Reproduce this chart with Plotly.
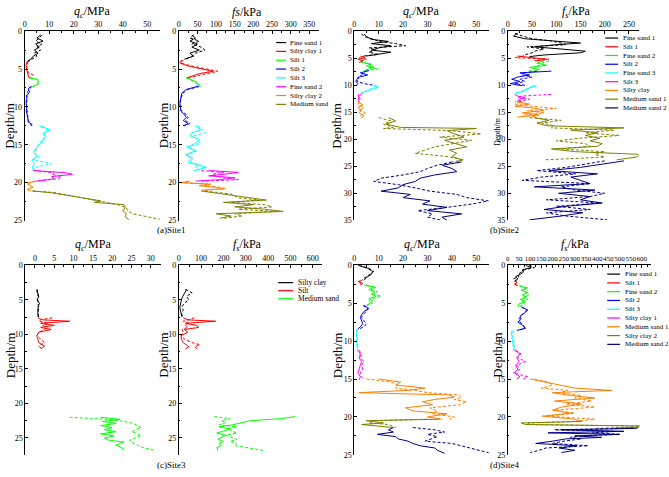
import plotly.graph_objects as go

W, H = 669, 477
FONT = "Liberation Serif"

PALETTE = ["#000000", "#FF0000", "#00FF00", "#0000FF", "#00FFFF",
           "#FF00FF", "#FF8000", "#808000", "#000080"]

SITE1_LAYERS = ["Fine sand 1", "Silty clay 1", "Silt 1", "Silt 2", "Silt 3",
                "Fine sand 2", "Silty clay 2", "Medium sand"]
SITE2_LAYERS = ["Fine sand 1", "Silt 1", "Fine sand 2", "Silt 2", "Fine sand 3",
                "Silt 3", "Silty clay", "Medium sand 1", "Medium sand 2"]
SITE3_LAYERS = ["Silty clay", "Silt", "Medium sand"]
SITE4_LAYERS = ["Fine sand 1", "Silt 1", "Fine sand 2", "Silt 2", "Silt 3",
                "Silty clay 1", "Medium sand 1", "Silty clay 2", "Medium sand 2"]

# Each layer: (depth [m], solid-line values, dashed-line values)
S1_QC = [
    ([0.5, 0.9, 1.3, 1.7, 2.1, 2.5, 2.9, 3.3, 3.7, 4.0],
     [6.5, 5.0, 7.5, 4.5, 6.0, 4.0, 5.5, 3.5, 2.5, 1.0],
     [7.0, 6.0, 4.5, 7.0, 5.0, 6.5, 4.0, 5.0, 3.0, 1.5]),
    ([4.0, 4.5, 5.0, 5.5, 5.8, 6.2],
     [1.0, 0.6, 0.8, 1.2, 1.5, 1.8],
     [1.5, 0.8, 1.0, 1.5, 3.5, 2.0]),
    ([6.2, 6.35, 6.6, 6.9, 7.1, 7.3],
     [2.0, 5.3, 5.5, 5.4, 5.0, 3.0],
     [2.5, 5.0, 5.8, 5.5, 4.5, 3.5]),
    ([7.3, 7.6, 8.0, 8.5, 9.0, 9.5, 10.0, 10.5, 11.0, 11.5, 12.0, 12.3, 12.5],
     [2.5, 1.5, 2.0, 1.0, 0.8, 0.6, 0.9, 0.7, 1.0, 1.2, 1.5, 3.0, 2.5],
     [3.0, 2.0, 1.2, 0.8, 1.0, 0.7, 0.8, 1.0, 0.9, 1.4, 1.8, 2.5, 3.0]),
    ([12.5, 13.0, 13.5, 14.0, 14.5, 15.0, 15.5, 16.0, 16.5, 17.0, 17.5, 18.0, 18.4],
     [6.0, 10.5, 7.5, 8.5, 7.0, 6.0, 4.5, 3.5, 5.0, 3.0, 4.0, 3.0, 4.5],
     [7.0, 9.0, 8.5, 7.5, 8.0, 5.5, 5.0, 4.0, 6.0, 3.5, 11.0, 4.0, 3.0]),
    ([18.4, 18.7, 18.9, 19.2, 19.5, 19.8],
     [4.0, 17.0, 19.5, 11.0, 12.0, 5.0],
     [3.5, 12.0, 11.0, 15.0, 13.5, 4.0]),
    ([19.8, 20.0, 20.3, 20.6, 20.9, 21.1],
     [5.0, 1.5, 2.0, 3.5, 1.0, 2.0],
     [4.0, 2.0, 1.5, 2.5, 1.5, 2.5]),
    ([21.1, 21.3, 21.6, 21.9, 22.2, 22.4, 22.6, 22.9, 23.3, 23.7, 24.1, 24.5, 24.9],
     [3.0, 10.0, 16.0, 21.0, 26.0, 31.0, 28.5, 40.5, 41.0, 40.0, 41.5, 41.0, 42.5],
     [3.5, 12.0, 17.0, 22.0, 27.0, 29.5, 33.0, 38.0, 41.5, 42.0, 44.0, 50.0, 56.0]),
]

S1_FS = [
    ([0.5, 0.9, 1.3, 1.7, 2.1, 2.5, 2.9, 3.3, 3.7],
     [35, 45, 30, 50, 35, 55, 30, 40, 15],
     [40, 30, 55, 35, 60, 70, 45, 35, 20]),
    ([3.8, 4.2, 4.6, 5.0, 5.3, 5.6, 5.9, 6.2],
     [8, 3, 25, 65, 92, 55, 38, 20],
     [12, 5, 35, 80, 105, 75, 47, 25]),
    ([6.2, 6.5, 6.8, 7.1, 7.3],
     [25, 40, 50, 55, 45],
     [20, 35, 45, 52, 60]),
    ([7.3, 7.7, 8.2, 8.8, 9.4, 10.0, 10.6, 11.0, 11.4, 11.8, 12.2, 12.5],
     [50, 20, 8, 5, 3, 4, 6, 15, 20, 12, 25, 15],
     [55, 25, 10, 6, 4, 3, 8, 20, 25, 18, 30, 10]),
    ([12.5, 13.0, 13.4, 13.8, 14.3, 14.8, 15.3, 15.8, 16.3, 16.8, 17.3, 17.7, 18.0, 18.4],
     [45, 60, 35, 30, 55, 45, 25, 45, 18, 35, 25, 55, 75, 40],
     [50, 65, 72, 40, 50, 58, 20, 50, 22, 40, 28, 60, 45, 55]),
    ([18.4, 18.65, 18.9, 19.1, 19.35, 19.6, 19.8],
     [80, 160, 120, 80, 150, 110, 45],
     [60, 120, 90, 100, 120, 160, 60]),
    ([19.8, 20.0, 20.2, 20.4, 20.6, 20.8, 21.0],
     [30, 5, 85, 55, 95, 120, 60],
     [25, 15, 80, 70, 110, 125, 70]),
    ([21.1, 21.5, 22.0, 22.3, 22.6, 22.9, 23.2, 23.5, 23.8, 24.1, 24.4, 24.7],
     [60, 120, 190, 235, 120, 200, 150, 230, 280, 100, 140, 110],
     [70, 140, 160, 215, 140, 230, 250, 160, 260, 150, 170, 120]),
]

S2_QC = [
    ([0.5, 1.0, 1.5, 1.9, 2.3, 2.7, 3.1, 3.5, 3.9, 4.3, 4.6],
     [4, 5, 7, 14, 7, 15, 10, 7, 15, 8, 5],
     [3, 4, 8, 10, 17, 21, 6, 9, 6, 10, 4]),
    ([4.6, 4.9, 5.2, 5.5, 5.8],
     [2.5, 4.5, 1.5, 3.5, 2.0],
     [4.0, 2.0, 5.0, 2.5, 3.5]),
    ([5.8, 6.1, 6.4, 6.7, 7.0, 7.3],
     [3, 7, 5, 8, 6, 4],
     [4, 6, 8, 6, 10, 5]),
    ([7.3, 7.7, 8.1, 8.5, 8.9, 9.3, 9.7, 10.0],
     [6, 2.5, 5.5, 2, 1, 0.7, 1.5, 1],
     [5, 4, 3, 1.5, 2, 1, 4, 8]),
    ([10.0, 10.4, 10.8, 11.2, 11.6],
     [8, 10, 7, 4, 2.5],
     [9, 8, 6, 5, 3]),
    ([11.6, 12.0, 12.4, 12.8, 13.1],
     [2, 1.5, 2.5, 1.5, 2],
     [3, 2, 1.5, 2.5, 1.5]),
    ([13.1, 13.6, 14.1, 14.6, 15.1, 15.6, 16.0],
     [1.5, 3.5, 1.5, 3, 2, 4, 3],
     [2, 1.5, 4, 2, 4.5, 2.5, 3.5]),
    ([16.0, 16.6, 17.2, 17.8, 18.0, 18.4, 19.0, 19.6, 20.2, 20.8, 21.4, 22.0, 22.6, 23.2, 23.8, 24.2],
     [14, 17, 13, 19, 50, 38, 41, 45, 37, 42, 46, 39, 42, 40, 44, 42],
     [10, 15, 12, 16, 12, 40, 52, 35, 48, 40, 33, 29, 25, 38, 45, 40]),
    ([24.2, 24.8, 25.4, 26.0, 26.6, 27.2, 27.8, 28.4, 29.0, 29.6, 30.2, 30.8, 31.4, 32.0, 32.6, 33.2, 33.8, 34.4, 35.0],
     [44, 36, 40, 42, 33, 27, 25, 20, 18, 11, 23, 20, 31, 28, 38, 30, 44, 36, 38],
     [40, 34, 30, 27, 20, 11, 8, 18, 25, 31, 42, 46, 55, 48, 38, 26, 32, 30, 36]),
]

S2_FS = [
    ([0.4, 0.9, 1.4, 1.8, 2.2, 2.5, 2.9, 3.3, 3.7, 4.0, 4.4, 4.7],
     [20, 12, 35, 95, 150, 100, 55, 110, 160, 150, 75, 45],
     [15, 30, 50, 90, 110, 120, 40, 75, 55, 50, 35, 30]),
    ([4.6, 4.9, 5.2, 5.5],
     [20, 45, 80, 55],
     [30, 15, 85, 60]),
    ([5.5, 5.9, 6.3, 6.7, 7.1, 7.5],
     [75, 60, 80, 45, 65, 50],
     [85, 70, 65, 55, 50, 40]),
    ([7.4, 7.7, 8.1, 8.5, 8.9, 9.3, 9.7, 10.1],
     [90, 25, 45, 20, 8, 25, 5, 30],
     [60, 35, 30, 50, 25, 35, 15, 40]),
    ([10.1, 10.5, 10.9, 11.3, 11.7],
     [55, 45, 35, 25, 15],
     [60, 40, 38, 20, 12]),
    ([11.7, 12.0, 12.3, 12.6, 12.9, 13.1],
     [15, 20, 35, 25, 20, 30],
     [90, 30, 20, 45, 25, 15]),
    ([13.1, 13.5, 13.9, 14.3, 14.7, 15.1, 15.5, 15.9],
     [20, 45, 15, 60, 75, 30, 65, 20],
     [25, 15, 50, 100, 40, 75, 35, 60]),
    ([16.0, 16.5, 17.0, 17.5, 17.9, 18.3, 18.8, 19.3, 19.8, 20.3, 20.8, 21.3, 21.8, 22.3, 22.8, 23.3, 23.8],
     [55, 85, 60, 80, 240, 130, 185, 160, 190, 170, 195, 185, 90, 140, 275, 265, 225],
     [45, 110, 70, 95, 90, 220, 160, 230, 150, 100, 160, 170, 110, 200, 180, 200, 75]),
    ([24.0, 24.6, 25.2, 25.8, 26.4, 27.0, 27.6, 28.2, 28.8, 29.4, 30.0, 30.6, 31.2, 31.8, 32.4, 33.0, 33.6, 34.2, 34.9],
     [240, 190, 150, 85, 185, 130, 150, 170, 55, 180, 105, 170, 150, 195, 120, 75, 155, 110, 45],
     [200, 160, 120, 60, 140, 70, 30, 170, 110, 140, 200, 170, 80, 190, 100, 170, 80, 120, 205]),
]

S3_QC = [
    ([3.5, 4.0, 4.5, 5.0, 5.5, 6.0, 6.5, 7.0, 7.5],
     [0.5, 0.8, 1.0, 0.6, 1.2, 0.8, 0.9, 0.7, 1.0],
     [0.6, 0.5, 0.9, 0.7, 0.8, 1.0, 0.7, 0.9, 0.8]),
    ([7.6, 7.9, 8.1, 8.4, 8.7, 9.0, 9.3, 9.7, 10.2, 10.7, 11.2, 11.7, 12.1],
     [0.8, 2.0, 9.0, 1.5, 5.0, 1.5, 4.2, 1.0, 0.5, 0.8, 1.0, 2.5, 1.5],
     [4.5, 1.5, 1.0, 3.5, 2.0, 3.0, 2.5, 1.0, 0.5, 1.5, 2.5, 1.0, 1.8]),
    ([22.0, 22.3, 22.6, 22.9, 23.2, 23.5, 23.8, 24.1, 24.4, 24.7, 25.0, 25.3, 25.6, 26.0, 26.4, 26.8],
     [17, 22, 17.5, 21, 17, 20, 18, 21, 17, 20.5, 18, 19, 23, 21, 22.5, 23],
     [9, 19, 23, 25.5, 26.5, 27.5, 26, 25, 26.5, 27.5, 26, 24.5, 25, 26.5, 28, 31]),
]

S3_FS = [
    ([3.5, 4.0, 4.5, 5.0, 5.5, 6.0, 6.5, 7.0, 7.5],
     [35, 25, 18, 12, 8, 5, 7, 10, 15],
     [30, 60, 35, 45, 25, 15, 20, 12, 18]),
    ([7.6, 7.9, 8.1, 8.4, 8.7, 9.0, 9.3, 9.7, 10.2, 10.7, 11.2, 11.5, 11.8, 12.1],
     [20, 40, 165, 30, 80, 90, 25, 40, 10, 12, 20, 35, 45, 30],
     [70, 35, 20, 45, 30, 40, 15, 20, 12, 25, 60, 95, 70, 85]),
    ([21.9, 22.2, 22.5, 22.8, 23.1, 23.4, 23.7, 24.0, 24.3, 24.6, 24.9, 25.2, 25.5, 25.8, 26.1, 26.4, 26.8],
     [520, 460, 320, 280, 240, 180, 230, 200, 170, 210, 190, 175, 200, 180, 190, 170, 175],
     [160, 230, 190, 210, 180, 260, 220, 240, 260, 210, 240, 260, 230, 260, 250, 300, 380]),
]

S4_QC = [
    ([0.0, 0.4, 0.8, 1.2, 1.6, 2.0],
     [1.5, 5.5, 7.5, 7.0, 5.0, 4.0],
     [2.0, 6.0, 8.0, 6.5, 4.5, 3.0]),
    ([2.0, 2.2, 2.4, 2.6],
     [3.0, 2.0, 3.5, 2.5],
     [2.5, 1.5, 2.5, 3.0]),
    ([2.6, 2.9, 3.2, 3.5, 3.8, 4.1, 4.4, 4.7, 5.0, 5.3],
     [4, 8, 6, 8.5, 7, 9, 6, 7.5, 6.5, 5],
     [5, 9, 7, 9.5, 8, 11, 7, 6, 7.5, 5]),
    ([5.3, 5.7, 6.1, 6.5, 6.9, 7.3, 7.7, 8.1, 8.4],
     [4, 6, 4, 3, 2.5, 3, 3.5, 2.5, 1.5],
     [3.5, 5.5, 5, 3.5, 3, 4, 5, 4, 2]),
    ([8.4, 9.0, 9.6, 10.2, 10.8, 11.2],
     [1, 0.8, 1.2, 1.0, 1.5, 1.2],
     [1.2, 1.0, 0.9, 1.3, 1.0, 1.5]),
    ([11.2, 11.7, 12.2, 12.7, 13.2, 13.7, 14.2, 14.7, 15.1],
     [1.5, 2.5, 2.0, 3.0, 2.5, 2.0, 1.5, 2.5, 2.0],
     [2.0, 3.0, 2.5, 4.0, 3.0, 3.5, 2.5, 3.0, 4.0]),
    ([15.0, 15.4, 15.8, 16.2, 16.5, 16.8, 17.1, 17.4, 17.7, 18.0, 18.4, 18.8, 19.2, 19.6, 20.0, 20.3],
     [10, 19, 17, 29, 22, 2, 39, 41, 33, 28, 32, 21, 24, 38, 30, 36],
     [5, 15, 18, 17, 25, 30, 43, 44, 41, 46, 43, 31, 34, 32, 41, 39]),
    ([20.3, 20.5, 20.8, 21.0, 21.4],
     [35, 5, 12, 3, 16],
     [30, 8, 6, 14, 17]),
    ([21.4, 21.7, 22.0, 22.3, 22.6, 22.9, 23.2, 23.5, 23.8, 24.1, 24.4, 24.8],
     [16, 14, 16, 9.5, 17, 18, 22, 24, 27, 33, 34, 37],
     [24, 33, 37, 30, 34, 31, 29, 40, 44, 47, 52, 56]),
]

S4_FS = [
    ([0.0, 0.3, 0.6, 0.9, 1.2, 1.5, 1.8, 2.1],
     [80, 105, 65, 70, 55, 35, 45, 30],
     [95, 120, 75, 60, 45, 50, 25, 40]),
    ([2.1, 2.3, 2.5, 2.7],
     [35, 40, 30, 45],
     [30, 45, 35, 40]),
    ([2.7, 3.0, 3.3, 3.6, 3.9, 4.2, 4.5, 4.8, 5.1, 5.5],
     [50, 85, 60, 90, 65, 85, 55, 80, 50, 45],
     [55, 90, 70, 80, 95, 70, 90, 60, 75, 50]),
    ([5.5, 5.9, 6.3, 6.7, 7.1, 7.5, 7.9, 8.3, 8.6],
     [60, 90, 75, 55, 60, 45, 65, 80, 40],
     [65, 85, 70, 60, 50, 55, 70, 75, 50]),
    ([8.6, 9.1, 9.6, 10.1, 10.6, 11.2],
     [20, 15, 25, 20, 30, 25],
     [25, 20, 18, 30, 22, 35]),
    ([11.2, 11.7, 12.2, 12.7, 13.2, 13.7, 14.2, 14.7, 15.0],
     [30, 55, 40, 50, 35, 45, 30, 55, 40],
     [35, 60, 45, 80, 40, 55, 25, 90, 70]),
    ([15.0, 15.4, 15.8, 16.2, 16.5, 16.8, 17.2, 17.5, 17.9, 18.3, 18.7, 19.1, 19.5, 19.9, 20.3, 20.6],
     [100, 170, 240, 300, 465, 200, 290, 390, 210, 330, 240, 200, 280, 155, 300, 330],
     [120, 180, 200, 150, 270, 230, 330, 300, 375, 260, 390, 210, 300, 180, 390, 300]),
    ([20.6, 20.8, 21.0, 21.2, 21.35, 21.5],
     [330, 60, 80, 590, 580, 470],
     [300, 90, 100, 580, 590, 400]),
    ([21.5, 21.7, 21.9, 22.1, 22.3, 22.5, 22.7, 22.9, 23.2, 23.5, 23.8, 24.1, 24.4, 24.7],
     [580, 240, 520, 180, 500, 300, 420, 260, 200, 125, 310, 230, 300, 240],
     [560, 210, 480, 380, 500, 320, 280, 330, 250, 200, 360, 170, 140, 100]),
]

QC_TITLE = "<i>q</i><sub><i>c</i></sub>/MPa"
FS_TITLE = "<i>f</i><sub><i>s</i></sub>/kPa"

# panel layout (pixel geometry)
PANELS = [
    dict(data=S1_QC, layers=SITE1_LAYERS, x0=22.7, x1=158.0, y0=27.7, y1=220.7,
         xr=[0, 55], dt=10, yr=[25, 0], title=QC_TITLE, tx=90, ty=8, tf=8),
    dict(data=S1_FS, layers=SITE1_LAYERS, x0=177.3, x1=317.6, y0=27.7, y1=220.7,
         xr=[0, 375], dt=50, yr=[25, 0], title="<i>fs</i>/kPa", tx=246, ty=8, tf=8),
    dict(data=S2_QC, layers=SITE2_LAYERS, x0=353.3, x1=488.0, y0=27.7, y1=220.5,
         xr=[0, 55], dt=10, yr=[35, 0], title=QC_TITLE, tx=420, ty=8, tf=8),
    dict(data=S2_FS, layers=SITE2_LAYERS, x0=507.3, x1=638.5, y0=27.7, y1=220.5,
         xr=[0, 270], dt=50, yr=[35, 0], title=FS_TITLE, tx=576, ty=8, tf=8),
    dict(data=S3_QC, layers=SITE3_LAYERS, x0=23.3, x1=159.0, y0=266.3, y1=459.5,
         xr=[-2.5, 32.5], dt=5, yr=[27.44, 0], title=QC_TITLE, tx=91, ty=246, tf=8),
    dict(data=S3_FS, layers=SITE3_LAYERS, x0=177.3, x1=320.7, y0=266.3, y1=459.5,
         xr=[0, 640], dt=100, yr=[27.44, 0], title=FS_TITLE, tx=246, ty=246, tf=8),
    dict(data=S4_QC, layers=SITE4_LAYERS, x0=353.3, x1=488.0, y0=266.3, y1=459.5,
         xr=[0, 55], dt=10, yr=[25, 0], title=QC_TITLE, tx=421, ty=246, tf=8),
    dict(data=S4_FS, layers=SITE4_LAYERS, x0=507.3, x1=650.7, y0=266.3, y1=459.5,
         xr=[0, 640], dt=50, yr=[25, 0], title=FS_TITLE, tx=575, ty=246, tf=7),
]

DEPTH_LABELS = [(8, 124, 13), (162, 124, 13), (336, 124, 13), (497, 130, 8),
                (8, 358, 13), (162, 358, 13), (336, 358, 13), (497, 358, 13)]
CAPTIONS = [("(a)Site1", 170, 230), ("(b)Site2", 504, 230),
            ("(c)Site3", 170, 470), ("(d)Site4", 504, 470)]
# legend: (panel index, line x0, line x1, text x, first y, step, font size)
LEGENDS = [(1, 275, 285, 287, 39.3, 9.0, 7),
           (3, 605, 618, 621, 34.7, 8.9, 7),
           (5, 277, 292, 295, 284.0, 8.2, 7.5),
           (7, 607, 620, 623, 275.3, 8.95, 7)]


def px(x):
    return x / W


def py(y):
    return 1 - y / H


fig = go.Figure()
layout = dict(width=W, height=H, autosize=False, margin=dict(l=0, r=0, t=0, b=0),
              paper_bgcolor="white", plot_bgcolor="white", showlegend=False,
              font=dict(family=FONT, color="black"))
annotations = []
shapes = []

for k, p in enumerate(PANELS, start=1):
    xa = "x" if k == 1 else f"x{k}"
    ya = "y" if k == 1 else f"y{k}"
    for i, (dep, sol, das) in enumerate(p["data"]):
        col = PALETTE[i]
        fig.add_trace(go.Scatter(x=sol, y=dep, mode="lines", xaxis=xa, yaxis=ya,
                                 line=dict(color=col, width=1), name=p["layers"][i]))
        fig.add_trace(go.Scatter(x=das, y=dep, mode="lines", xaxis=xa, yaxis=ya,
                                 line=dict(color=col, width=1, dash="3px,2px"),
                                 name=p["layers"][i]))
    axcommon = dict(showline=True, linecolor="black", linewidth=1, showgrid=False,
                    zeroline=False, ticks="inside", ticklen=3, tickwidth=1,
                    tickcolor="black")
    layout["xaxis" if k == 1 else f"xaxis{k}"] = dict(
        axcommon, domain=[px(p["x0"]), px(p["x1"])], range=p["xr"], side="top",
        anchor=ya, tickmode="linear", tick0=0, dtick=p["dt"], tickangle=0,
        tickfont=dict(family=FONT, size=p["tf"], color="black"),
        minor=dict(ticks="inside", ticklen=1.5, tickcolor="black", dtick=p["dt"] / 2))
    layout["yaxis" if k == 1 else f"yaxis{k}"] = dict(
        axcommon, domain=[py(p["y1"]), py(p["y0"])], range=p["yr"], anchor=xa,
        tickmode="linear", tick0=0, dtick=5,
        tickfont=dict(family=FONT, size=8, color="black"),
        minor=dict(ticks="inside", ticklen=1.5, tickcolor="black", dtick=2.5))
    annotations.append(dict(text=p["title"], x=px(p["tx"]), y=py(p["ty"]), xref="paper",
                            yref="paper", showarrow=False, xanchor="center",
                            yanchor="middle", font=dict(family=FONT, size=12)))

for x, y, s in DEPTH_LABELS:
    annotations.append(dict(text="Depth/m", x=px(x), y=py(y), xref="paper", yref="paper",
                            showarrow=False, textangle=-90, xanchor="center",
                            yanchor="middle", font=dict(family=FONT, size=s)))

for t, x, y in CAPTIONS:
    annotations.append(dict(text=t, x=px(x), y=py(y), xref="paper", yref="paper",
                            showarrow=False, xanchor="center", yanchor="middle",
                            font=dict(family=FONT, size=9)))

for pi, lx0, lx1, tx, y0, step, fs in LEGENDS:
    for i, name in enumerate(PANELS[pi]["layers"]):
        y = y0 + step * i
        shapes.append(dict(type="line", xref="paper", yref="paper", x0=px(lx0), x1=px(lx1),
                           y0=py(y), y1=py(y), line=dict(color=PALETTE[i], width=1.2)))
        annotations.append(dict(text=name, x=px(tx), y=py(y), xref="paper", yref="paper",
                                showarrow=False, xanchor="left", yanchor="middle",
                                font=dict(family=FONT, size=fs)))

layout["annotations"] = annotations
layout["shapes"] = shapes
fig.update_layout(**layout)
fig.write_html("out.html", config={"displayModeBar": False},
               post_script="document.body.style.margin='0';"
                           "document.body.style.overflow='hidden';")
